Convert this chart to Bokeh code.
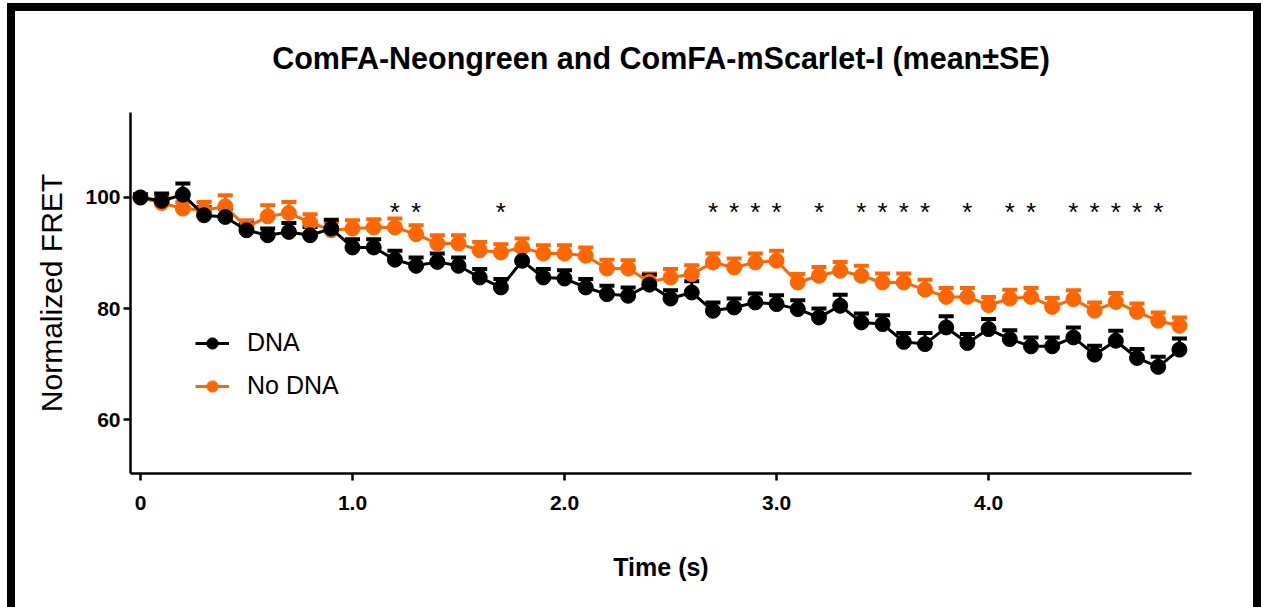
from bokeh.plotting import figure
from bokeh.models import (Range1d, FixedTicker, ColumnDataSource, Whisker, TeeHead,
                          Legend, LegendItem)
from bokeh.core.properties import value
from bokeh.embed import file_html
from bokeh.resources import INLINE

time_s = [round(0.1 * i, 1) for i in range(50)]

dna_mean = [100.0, 99.4, 100.5, 96.8, 96.5, 94.1, 93.2, 93.8, 93.2, 94.4,
            91.0, 91.0, 88.8, 87.7, 88.4, 87.7, 85.6, 83.8, 88.6, 85.6,
            85.4, 83.8, 82.6, 82.3, 84.3, 81.8, 82.9, 79.6, 80.2, 81.1,
            80.8, 79.9, 78.4, 80.5, 77.5, 77.2, 74.0, 73.6, 76.6, 73.8,
            76.3, 74.5, 73.2, 73.2, 74.8, 71.7, 74.2, 71.1, 69.5, 72.6]
dna_se = [0.6, 1.3, 2.0, 1.5, 1.5, 1.2, 1.2, 1.6, 1.5, 1.6,
          1.5, 1.5, 1.6, 1.5, 1.5, 1.5, 1.5, 1.5, 2.0, 1.5,
          1.5, 1.5, 1.5, 1.5, 1.8, 1.5, 2.0, 1.5, 1.6, 1.6,
          1.6, 1.6, 1.6, 2.0, 1.6, 1.6, 1.6, 2.0, 2.0, 1.6,
          1.8, 1.6, 1.6, 1.6, 1.8, 1.6, 1.8, 1.6, 1.8, 2.0]

nodna_mean = [100.0, 99.0, 98.0, 97.7, 98.4, 94.6, 96.6, 97.2, 95.5, 94.1,
              94.4, 94.6, 94.6, 93.4, 91.7, 91.7, 90.5, 90.1, 91.0, 89.9,
              89.9, 89.5, 87.2, 87.2, 84.8, 85.6, 86.2, 88.3, 87.4, 88.3,
              88.6, 84.7, 85.9, 86.8, 85.9, 84.7, 84.7, 83.4, 82.1, 82.1,
              80.6, 81.8, 82.1, 80.3, 81.7, 79.6, 81.2, 79.4, 77.8, 76.9]
nodna_se = [0.6, 1.2, 1.2, 1.5, 2.0, 1.3, 2.0, 2.0, 1.5, 1.5,
            1.5, 1.5, 1.6, 1.6, 1.5, 1.5, 1.5, 1.5, 1.6, 1.5,
            1.5, 1.5, 1.6, 1.5, 1.5, 1.5, 1.6, 1.6, 1.6, 1.6,
            1.8, 1.5, 1.6, 1.6, 1.8, 1.6, 1.6, 1.8, 1.6, 1.6,
            1.5, 1.6, 1.6, 1.6, 1.6, 1.5, 1.6, 1.5, 1.5, 1.5]

star_times = [1.2, 1.3, 1.7, 2.7, 2.8, 2.9, 3.0, 3.2, 3.4, 3.5,
              3.6, 3.7, 3.9, 4.1, 4.2, 4.4, 4.5, 4.6, 4.7, 4.8]
star_level = 97.4

x_ticks = [0, 1, 2, 3, 4]
x_tick_labels = ["0", "1.0", "2.0", "3.0", "4.0"]
y_ticks = [60, 80, 100]

TITLE = "ComFA-Neongreen and ComFA-mScarlet-I (mean\u00b1SE)"
BLACK = "#000000"
ORANGE = "#FF6600"
FONT = "Liberation Sans"

# thick black picture frame (left, top, right edges) painted behind the canvas
FRAME_BG = ("linear-gradient(#000,#000) 7px 3px / 8px 640px no-repeat, "
            "linear-gradient(#000,#000) 7px 3px / 1254px 8px no-repeat, "
            "linear-gradient(#000,#000) 1253px 3px / 8px 640px no-repeat, #ffffff")

W, H = 1261, 607
p = figure(width=W, height=H, output_backend="svg", toolbar_location=None,
           x_range=Range1d(-0.047, 4.957), y_range=Range1d(50.3, 115.3),
           min_border_left=130, min_border_right=70, min_border_top=112,
           min_border_bottom=134,
           styles={"background": FRAME_BG})
p.outline_line_color = None
p.grid.visible = False
p.background_fill_color = "white"
p.border_fill_color = None

p.title.text = TITLE
p.title.align = "center"
p.title.text_font = FONT
p.title.text_font_style = "bold"
p.title.text_font_size = "30.5px"
p.title.text_color = BLACK
p.title.standoff = 76

for ax in (p.xaxis[0], p.yaxis[0]):
    ax.axis_line_width = 2.5
    ax.axis_line_color = BLACK
    ax.major_tick_line_width = 2.5
    ax.major_tick_line_color = BLACK
    ax.major_tick_in = 0
    ax.major_tick_out = 7
    ax.minor_tick_line_color = None
    ax.major_label_text_font = FONT
    ax.major_label_text_font_style = "bold"
    ax.major_label_text_font_size = "21px"
    ax.major_label_text_color = BLACK
    ax.axis_label_text_color = BLACK

p.xaxis.ticker = FixedTicker(ticks=x_ticks)
p.xaxis.major_label_overrides = {t: l for t, l in zip(x_ticks, x_tick_labels)}
p.xaxis.major_label_standoff = 15
p.xaxis.axis_label = "Time (s)"
p.xaxis.axis_label_text_font = FONT
p.xaxis.axis_label_text_font_style = "bold"
p.xaxis.axis_label_text_font_size = "25px"
p.xaxis.axis_label_standoff = 40

p.yaxis.ticker = FixedTicker(ticks=y_ticks)
p.yaxis.major_label_standoff = 3
p.yaxis.axis_label = "Normalized FRET"
p.yaxis.axis_label_text_font = FONT
p.yaxis.axis_label_text_font_style = "normal"
p.yaxis.axis_label_text_font_size = "30px"
p.yaxis.axis_label_standoff = 14

src_n = ColumnDataSource(dict(x=time_s, y=nodna_mean,
                              up=[m + s for m, s in zip(nodna_mean, nodna_se)]))
src_d = ColumnDataSource(dict(x=time_s, y=dna_mean,
                              up=[m + s for m, s in zip(dna_mean, dna_se)]))

renderers = {}
for name, src, col in (("No DNA", src_n, ORANGE), ("DNA", src_d, BLACK)):
    w = Whisker(base="x", upper="up", lower="y", dimension="height", source=src,
                line_color=col, line_width=3,
                upper_head=TeeHead(size=15, line_color=col, line_width=4),
                lower_head=None)
    p.add_layout(w)
    ln = p.line("x", "y", source=src, line_color=col, line_width=3)
    sc = p.scatter("x", "y", source=src, size=15, fill_color=col, line_color=col)
    renderers[name] = [ln, sc]

p.text(x=star_times, y=[star_level] * len(star_times), text=["*"] * len(star_times),
       text_font=value(FONT), text_font_size="26px", text_align="center",
       text_baseline="middle", text_color=BLACK)

legend = Legend(items=[LegendItem(label="DNA", renderers=renderers["DNA"]),
                       LegendItem(label="No DNA", renderers=renderers["No DNA"])],
                location=(65, 73))
legend.padding = 0
legend.margin = 0
legend.spacing = 14
legend.glyph_width = 34
legend.glyph_height = 28
legend.label_height = 28
legend.label_standoff = 18
legend.label_text_font = FONT
legend.label_text_font_size = "25px"
legend.label_text_color = BLACK
legend.border_line_alpha = 0
legend.background_fill_alpha = 0
p.add_layout(legend)

open("out.html", "w").write(file_html(p, INLINE))
